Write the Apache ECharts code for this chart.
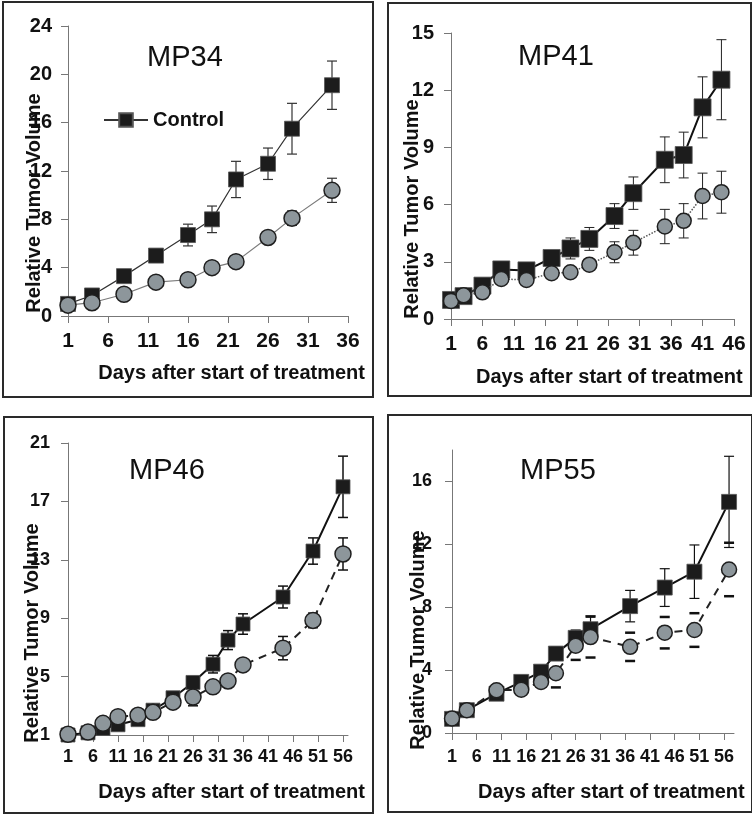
<!DOCTYPE html>
<html>
<head>
<meta charset="utf-8">
<script src="https://cdn.jsdelivr.net/npm/echarts@6/dist/echarts.min.js"></script>
<style>
  html, body { margin: 0; padding: 0; background: #fff; }
  #chart { width: 752px; height: 815px; }
</style>
</head>
<body>
<div id="chart"></div>
<script>
// MP34
var mp34Days = [1, 4, 8, 12, 16, 19, 22, 26, 29, 34];
var mp34Control = [1.0, 1.7, 3.3, 5.0, 6.7, 8.0, 11.3, 12.6, 15.5, 19.1];
var mp34ControlErr = [0.1, 0.3, 0.3, 0.3, 0.9, 1.1, 1.5, 1.3, 2.1, 2.0];
var mp34Treated = [0.9, 1.1, 1.8, 2.8, 3.0, 4.0, 4.5, 6.5, 8.1, 10.4];
var mp34TreatedErr = [0.1, 0.1, 0.2, 0.3, 0.3, 0.3, 0.3, 0.4, 0.6, 1.0];
var mp34XTicks = [1, 6, 11, 16, 21, 26, 31, 36];
var mp34YTicks = [0, 4, 8, 12, 16, 20, 24];

// MP41
var mp41Days = [1, 3, 6, 9, 13, 17, 20, 23, 27, 30, 35, 38, 41, 44];
var mp41Control = [1.0, 1.2, 1.75, 2.6, 2.55, 3.2, 3.7, 4.2, 5.4, 6.6, 8.35, 8.6, 11.1, 12.55];
var mp41ControlErr = [0.1, 0.1, 0.2, 0.2, 0.2, 0.3, 0.55, 0.6, 0.65, 0.85, 1.2, 1.2, 1.6, 2.1];
var mp41Treated = [0.95, 1.25, 1.4, 2.1, 2.05, 2.4, 2.45, 2.85, 3.5, 4.0, 4.85, 5.15, 6.45, 6.65];
var mp41TreatedErr = [0.05, 0.1, 0.1, 0.15, 0.15, 0.2, 0.2, 0.25, 0.55, 0.65, 0.9, 0.9, 1.2, 1.1];
var mp41XTicks = [1, 6, 11, 16, 21, 26, 31, 36, 41, 46];
var mp41YTicks = [0, 3, 6, 9, 12, 15];

// MP46
var mp46Days = [1, 5, 8, 11, 15, 18, 22, 26, 30, 33, 36, 44, 50, 56];
var mp46Control = [1.0, 1.15, 1.45, 1.7, 2.05, 2.7, 3.55, 4.6, 5.85, 7.5, 8.6, 10.45, 13.6, 18.0];
var mp46ControlErr = [0.05, 0.1, 0.1, 0.15, 0.2, 0.2, 0.3, 0.4, 0.6, 0.65, 0.7, 0.75, 0.9, 2.1];
var mp46Treated = [1.05, 1.2, 1.8, 2.25, 2.35, 2.55, 3.25, 3.6, 4.3, 4.7, 5.8, 6.95, 8.85, 13.4];
var mp46TreatedErr = [0.05, 0.1, 0.15, 0.15, 0.15, 0.2, 0.25, 0.6, 0.3, 0.3, 0.35, 0.8, 0.5, 1.1];
var mp46XTicks = [1, 6, 11, 16, 21, 26, 31, 36, 41, 46, 51, 56];
var mp46YTicks = [1, 5, 9, 13, 17, 21];

// MP55
var mp55Days = [1, 4, 10, 15, 19, 22, 26, 29, 37, 44, 50, 57];
var mp55Control = [0.9, 1.45, 2.5, 3.25, 3.9, 5.05, 6.05, 6.6, 8.07, 9.25, 10.26, 14.7];
var mp55ControlErr = [0.1, 0.1, 0.3, 0.3, 0.3, 0.4, 0.5, 0.85, 1.0, 1.2, 1.7, 2.9];
var mp55Treated = [0.92, 1.45, 2.72, 2.75, 3.25, 3.8, 5.55, 6.1, 5.48, 6.38, 6.55, 10.4];
var mp55TreatedErr = [0.1, 0.1, 0.3, 0.2, 0.3, 0.9, 0.9, 1.3, 0.9, 1.0, 1.07, 1.7];
var mp55XTicks = [1, 6, 11, 16, 21, 26, 31, 36, 41, 46, 51, 56];
var mp55YTicks = [0, 4, 8, 12, 16];

var yTitle = "Relative Tumor Volume";
var xTitle = "Days after start of treatment";

var fontFamily = "'Liberation Sans', Arial, Helvetica, sans-serif";
var circleFill = "#8d969b";

var panels = [
  {
    name: "MP34", days: mp34Days, control: mp34Control, controlErr: mp34ControlErr,
    treated: mp34Treated, treatedErr: mp34TreatedErr, xTicks: mp34XTicks, yTicks: mp34YTicks,
    xMin: 1, xMax: 36, yMin: 0, yMax: 24,
    grid: { left: 68, top: 26, width: 280, height: 290 },
    frame: [3, 2, 370, 395], title: [185, 58], yName: [34, 203], xName: [365, 373, "right"],
    xFont: 21, xMargin: 15, yFont: 20, yMargin: 16,
    squareSize: 15, circleSize: 16,
    controlLine: { color: "#333", width: 1.2, type: "solid" },
    treatedLine: { color: "#7a7a7a", width: 1.2, type: "solid" },
    errColor: "#333", errWidth: 1.2, treatedCapsOnly: false
  },
  {
    name: "MP41", days: mp41Days, control: mp41Control, controlErr: mp41ControlErr,
    treated: mp41Treated, treatedErr: mp41TreatedErr, xTicks: mp41XTicks, yTicks: mp41YTicks,
    xMin: 1, xMax: 46, yMin: 0, yMax: 15,
    grid: { left: 451, top: 33, width: 283, height: 286 },
    frame: [388, 3, 363, 393], title: [556, 57], yName: [412, 209], xName: [476, 377, "left"],
    xFont: 21, xMargin: 15, yFont: 20, yMargin: 17,
    squareSize: 17, circleSize: 15,
    controlLine: { color: "#111", width: 2, type: "solid" },
    treatedLine: { color: "#555", width: 1.5, type: "dotted" },
    errColor: "#222", errWidth: 1, treatedCapsOnly: false
  },
  {
    name: "MP46", days: mp46Days, control: mp46Control, controlErr: mp46ControlErr,
    treated: mp46Treated, treatedErr: mp46TreatedErr, xTicks: mp46XTicks, yTicks: mp46YTicks,
    xMin: 1, xMax: 57, yMin: 1, yMax: 21,
    grid: { left: 68, top: 443, width: 280, height: 292 },
    frame: [4, 417, 369, 396], title: [167, 471], yName: [32, 633], xName: [365, 792, "right"],
    xFont: 18, xMargin: 13, yFont: 18, yMargin: 18,
    squareSize: 14, circleSize: 16,
    controlLine: { color: "#111", width: 2, type: "solid" },
    treatedLine: { color: "#222", width: 2, type: [8, 6] },
    errColor: "#111", errWidth: 1.5, treatedCapsOnly: false
  },
  {
    name: "MP55", days: mp55Days, control: mp55Control, controlErr: mp55ControlErr,
    treated: mp55Treated, treatedErr: mp55TreatedErr, xTicks: mp55XTicks, yTicks: mp55YTicks,
    xMin: 1, xMax: 58, yMin: 0, yMax: 18,
    grid: { left: 452, top: 450, width: 282, height: 283 },
    frame: [388, 415, 364, 397], title: [558, 471], yName: [418, 640], xName: [478, 792, "left"],
    xFont: 18, xMargin: 15, yFont: 18, yMargin: 20,
    squareSize: 15, circleSize: 15,
    controlLine: { color: "#111", width: 2, type: "solid" },
    treatedLine: { color: "#222", width: 2, type: [8, 7] },
    errColor: "#111", errWidth: 1.2, treatedCapsOnly: true
  }
];

function pairs(days, vals, errs) {
  return days.map(function (d, k) {
    return errs ? [d, vals[k], errs[k]] : [d, vals[k]];
  });
}

// error bars: vertical whisker + caps, or caps only (MP55 treated)
function errorBars(color, width, capsOnly, capWidth) {
  return function (params, api) {
    var x = api.value(0), y = api.value(1), e = api.value(2);
    var hi = api.coord([x, y + e]);
    var lo = api.coord([x, y - e]);
    var capStyle = { stroke: color, lineWidth: capsOnly ? capWidth : width, fill: null };
    var kids = [
      { type: "line", shape: { x1: hi[0] - 5, y1: hi[1], x2: hi[0] + 5, y2: hi[1] }, style: capStyle },
      { type: "line", shape: { x1: lo[0] - 5, y1: lo[1], x2: lo[0] + 5, y2: lo[1] }, style: capStyle }
    ];
    if (!capsOnly) {
      kids.push({
        type: "line", shape: { x1: hi[0], y1: hi[1], x2: lo[0], y2: lo[1] },
        style: { stroke: color, lineWidth: width, fill: null }
      });
    }
    return { type: "group", children: kids };
  };
}

var grids = [], xAxes = [], yAxes = [], series = [], graphics = [];

panels.forEach(function (p, i) {
  grids.push(Object.assign({ containLabel: false, outerBoundsMode: "none" }, p.grid));

  xAxes.push({
    type: "value", gridIndex: i, min: p.xMin, max: p.xMax,
    axisLine: { show: true, onZero: false, lineStyle: { color: "#777", width: 1 } },
    axisTick: { show: true, length: 7, customValues: p.xTicks, lineStyle: { color: "#777" } },
    axisLabel: {
      customValues: p.xTicks, margin: p.xMargin, color: "#111",
      fontSize: p.xFont, fontWeight: "bold", fontFamily: fontFamily
    },
    splitLine: { show: false }
  });

  yAxes.push({
    type: "value", gridIndex: i, min: p.yMin, max: p.yMax,
    axisLine: { show: true, onZero: false, lineStyle: { color: "#777", width: 1 } },
    axisTick: { show: true, length: 7, customValues: p.yTicks, lineStyle: { color: "#777" } },
    axisLabel: {
      customValues: p.yTicks, margin: p.yMargin, color: "#111",
      fontSize: p.yFont, fontWeight: "bold", fontFamily: fontFamily
    },
    splitLine: { show: false }
  });

  series.push({
    type: "custom", xAxisIndex: i, yAxisIndex: i, z: 1,
    renderItem: errorBars(p.errColor, p.errWidth, false, 0),
    encode: { x: 0, y: 1 },
    data: pairs(p.days, p.control, p.controlErr),
    silent: true
  });
  series.push({
    type: "custom", xAxisIndex: i, yAxisIndex: i, z: 1,
    renderItem: errorBars(p.errColor, p.errWidth, p.treatedCapsOnly, 2.5),
    encode: { x: 0, y: 1 },
    data: pairs(p.days, p.treated, p.treatedErr),
    silent: true
  });

  series.push({
    type: "line", name: i === 0 ? "Control" : p.name + " Control",
    xAxisIndex: i, yAxisIndex: i, z: 3, clip: false,
    data: pairs(p.days, p.control),
    symbol: "rect", symbolSize: p.squareSize, showAllSymbol: true,
    itemStyle: { color: "#1c1c1c", borderColor: "#555", borderWidth: 0.8 },
    lineStyle: p.controlLine
  });
  series.push({
    type: "line", name: p.name + " Treated",
    xAxisIndex: i, yAxisIndex: i, z: 4, clip: false,
    data: pairs(p.days, p.treated),
    symbol: "circle", symbolSize: p.circleSize, showAllSymbol: true,
    itemStyle: { color: circleFill, borderColor: "#1f1f1f", borderWidth: 1.5 },
    lineStyle: p.treatedLine
  });

  graphics.push({
    type: "rect", z: 0, silent: true,
    shape: { x: p.frame[0], y: p.frame[1], width: p.frame[2], height: p.frame[3] },
    style: { fill: null, stroke: "#2a2a2a", lineWidth: 2 }
  });
  graphics.push({
    type: "text", x: p.title[0], y: p.title[1], silent: true,
    style: { text: p.name, font: "29px " + fontFamily, fill: "#111", align: "center", verticalAlign: "middle" }
  });
  graphics.push({
    type: "text", x: p.yName[0], y: p.yName[1], rotation: Math.PI / 2, silent: true,
    style: { text: yTitle, font: "bold 20px " + fontFamily, fill: "#111", align: "center", verticalAlign: "middle" }
  });
  graphics.push({
    type: "text", x: p.xName[0], y: p.xName[1], silent: true,
    style: { text: xTitle, font: "bold 20px " + fontFamily, fill: "#111", align: p.xName[2], verticalAlign: "middle" }
  });
});

var myChart = echarts.init(document.getElementById("chart"), null, { renderer: "canvas" });
var option = {
  animation: false,
  backgroundColor: "#fff",
  grid: grids,
  xAxis: xAxes,
  yAxis: yAxes,
  series: series,
  legend: {
    data: ["Control"], left: 103, top: 110, padding: 0, itemWidth: 44, itemHeight: 17,
    selectedMode: false,
    textStyle: { color: "#111", fontSize: 20, fontWeight: "bold", fontFamily: fontFamily }
  },
  graphic: graphics
};
myChart.setOption(option);
</script>
</body>
</html>
